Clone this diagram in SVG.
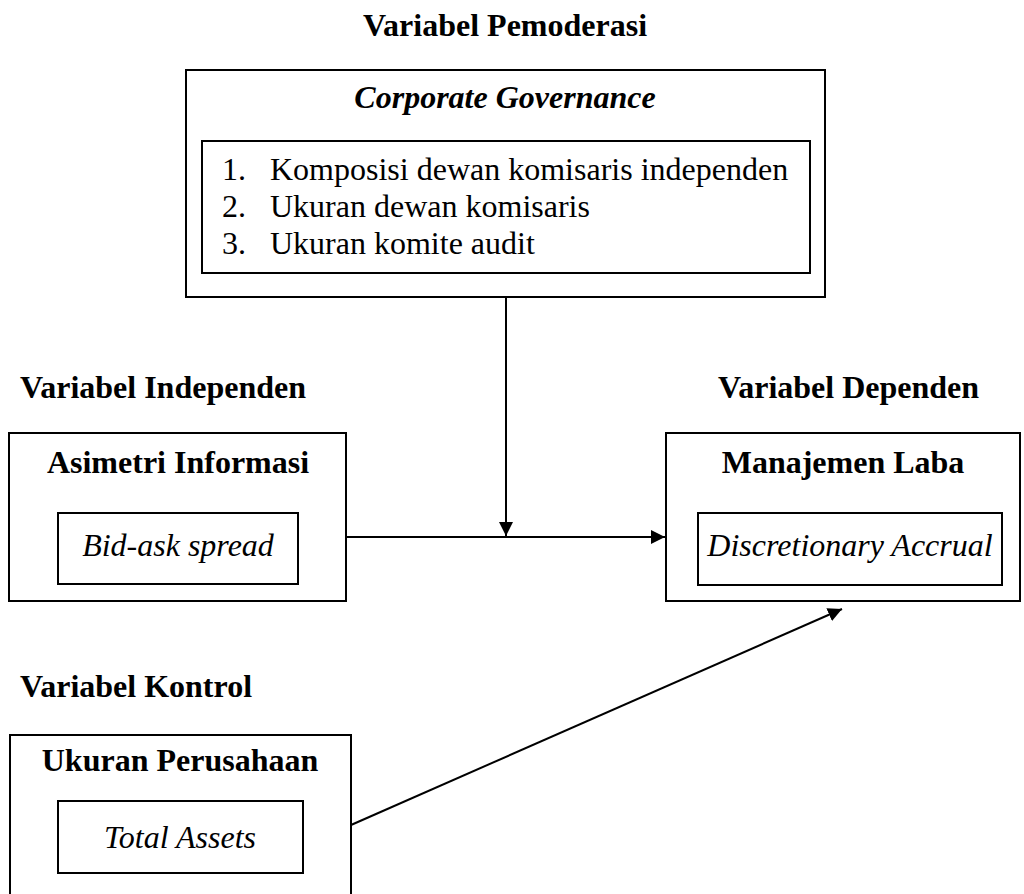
<svg xmlns="http://www.w3.org/2000/svg" width="1024" height="894" viewBox="0 0 1024 894">
<style>
.box{fill:none;stroke:#000;stroke-width:2}
.t{font-family:"Liberation Serif","Times New Roman",serif;font-size:32px;fill:#000}
.b{font-weight:bold}
.i{font-style:italic}
.c{text-anchor:middle}
.ln{stroke:#000;stroke-width:2;fill:none}
</style>
<defs>
<marker id="ah" viewBox="0 0 10 10" refX="10" refY="5" markerWidth="14" markerHeight="14" markerUnits="userSpaceOnUse" orient="auto">
<path d="M0,0 L10,5 L0,10 z" fill="#000"/>
</marker>
</defs>
<rect width="1024" height="894" fill="#fff"/>
<text class="t b c" x="505" y="36">Variabel Pemoderasi</text>
<text class="t b" x="20" y="398">Variabel Independen</text>
<text class="t b" x="718" y="398">Variabel Dependen</text>
<text class="t b" x="20" y="697">Variabel Kontrol</text>
<g id="cg">
<rect class="box" x="186" y="70" width="639" height="227"/>
<text class="t b i c" x="505" y="108">Corporate Governance</text>
<rect class="box" x="202" y="141" width="608" height="132"/>
<text class="t" x="222" y="180">1.</text>
<text class="t" x="270" y="180">Komposisi dewan komisaris independen</text>
<text class="t" x="222" y="217">2.</text>
<text class="t" x="270" y="217">Ukuran dewan komisaris</text>
<text class="t" x="222" y="254">3.</text>
<text class="t" x="270" y="254">Ukuran komite audit</text>
</g>
<g id="ai">
<rect class="box" x="9" y="433" width="337" height="168"/>
<text class="t b c" x="178" y="473">Asimetri Informasi</text>
<rect class="box" x="58" y="513" width="240" height="71"/>
<text class="t i c" x="178" y="556">Bid-ask spread</text>
</g>
<g id="ml">
<rect class="box" x="666" y="433" width="354" height="168"/>
<text class="t b c" x="843" y="473">Manajemen Laba</text>
<rect class="box" x="698" y="513" width="304" height="72"/>
<text class="t i c" x="850" y="556">Discretionary Accrual</text>
</g>
<g id="up">
<rect class="box" x="10" y="735" width="341" height="170"/>
<text class="t b c" x="180" y="771">Ukuran Perusahaan</text>
<rect class="box" x="58" y="801" width="245" height="72"/>
<text class="t i c" x="180" y="848">Total Assets</text>
</g>
<g id="connectors">
<line class="ln" x1="506" y1="297" x2="506" y2="536" marker-end="url(#ah)"/>
<line class="ln" x1="346" y1="537" x2="665" y2="537" marker-end="url(#ah)"/>
<line class="ln" x1="351" y1="825" x2="842" y2="609" marker-end="url(#ah)"/>
</g>
</svg>
